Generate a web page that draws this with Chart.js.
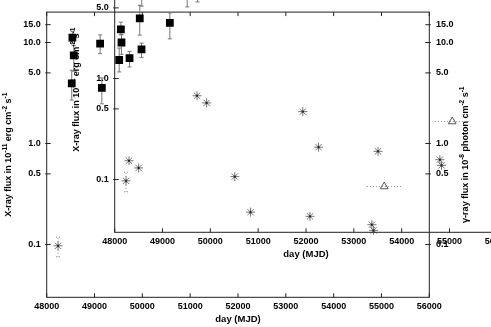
<!DOCTYPE html>
<html>
<head>
<meta charset="utf-8">
<script src="https://cdn.jsdelivr.net/npm/chart.js@4.4.1/dist/chart.umd.min.js"></script>
<style>
html, body { margin: 0; padding: 0; background: #fff; overflow: hidden; }
#wrap { position: relative; width: 491px; height: 327px; overflow: hidden; }
canvas { position: absolute; }
#main { left: 0; top: 0; }
#ghost { left: 68px; top: -65px; }
</style>
</head>
<body>
<div id="wrap">
  <canvas id="main" width="491" height="327"></canvas>
  <canvas id="ghost" width="491" height="327"></canvas>
</div>
<script>
"use strict";

/* ===== DATA ===== */
const xTicks = [48000, 49000, 50000, 51000, 52000, 53000, 54000, 55000, 56000];
const yTicks = [0.1, 0.5, 1, 5, 10, 15];

// X-ray (filled squares) with error bars
const sqDay  = [48524, 48537, 48566, 49117, 49153, 49516, 49551, 49564, 49732, 49983];
const sqFlux = [3.93, 11.2, 7.46, 9.73, 3.56, 6.71, 13.5, 10.0, 7.02, 8.55];
const sqLo   = [2.69, 9.7, 5.2, 7.76, 2.47, 5.11, 11.9, 7.64, 5.73, 7.13];
const sqHi   = [5.31, 12.9, 9.3, 11.9, 4.46, 8.81, 15.9, 12.0, 8.17, 9.86];

// X-ray (asterisks)
const astDay  = [48237, 49721, 49922, 51933, 52262, 53505, 54799, 54834];
const astFlux = [0.097, 0.675, 0.573, 0.470, 0.209, 0.190, 0.157, 0.138];
const astLo   = [0.0755, null, null, null, null, null, null, null];
const astHi   = [0.118, null, null, null, null, null, null, null];

// gamma-ray (open triangle), horizontal error
const gamDay  = [55057];
const gamFlux = [0.375];
const gamFrom = [54694];
const gamTo   = [55421];

const FONT = "'Liberation Sans', Arial, sans-serif";
const tickFont = { family: FONT, size: 9, weight: 'bold' };

/* ===== PLUGINS ===== */
const errorBars = {
    id: 'errorBars',
    beforeDatasetsDraw(chart) {
        const { ctx, scales: { x, y } } = chart;
        ctx.save();
        ctx.strokeStyle = '#777';
        ctx.lineWidth = 1;
        sqDay.forEach((d, i) => {
            const px = x.getPixelForValue(d);
            const a = y.getPixelForValue(sqLo[i]);
            const b = y.getPixelForValue(sqHi[i]);
            ctx.beginPath();
            ctx.moveTo(px, a); ctx.lineTo(px, b);
            ctx.moveTo(px - 2, a); ctx.lineTo(px + 2, a);
            ctx.moveTo(px - 2, b); ctx.lineTo(px + 2, b);
            ctx.stroke();
        });
        // dotted ones
        ctx.setLineDash([1, 2]);
        ctx.strokeStyle = '#888';
        astDay.forEach((d, i) => {
            if (astLo[i] == null) return;
            const px = x.getPixelForValue(d);
            const a = y.getPixelForValue(astLo[i]);
            const b = y.getPixelForValue(astHi[i]);
            ctx.beginPath();
            ctx.moveTo(px, a); ctx.lineTo(px, b);
            ctx.moveTo(px - 2, a); ctx.lineTo(px + 2, a);
            ctx.moveTo(px - 2, b); ctx.lineTo(px + 2, b);
            ctx.stroke();
        });
        gamDay.forEach((d, i) => {
            const py = y.getPixelForValue(gamFlux[i]);
            ctx.beginPath();
            ctx.moveTo(x.getPixelForValue(gamFrom[i]), py);
            ctx.lineTo(x.getPixelForValue(gamTo[i]), py);
            ctx.stroke();
        });
        ctx.restore();
    },
    afterDatasetsDraw(chart) {
        // dark centre of the asterisks
        const { ctx, scales: { x, y } } = chart;
        ctx.save();
        ctx.fillStyle = '#222';
        astDay.forEach((d, i) => {
            ctx.fillRect(x.getPixelForValue(d) - 1, y.getPixelForValue(astFlux[i]) - 1, 2, 2);
        });
        ctx.restore();
    }
};

const frame = {
    id: 'frame',
    afterDraw(chart) {
        const { ctx, chartArea: a, scales: { x, y } } = chart;
        ctx.save();
        ctx.strokeStyle = '#222';
        ctx.lineWidth = 1;
        ctx.strokeRect(a.left, a.top, a.right - a.left, a.bottom - a.top);
        ctx.beginPath();
        xTicks.forEach(v => {
            const px = x.getPixelForValue(v);
            ctx.moveTo(px, a.bottom); ctx.lineTo(px, a.bottom - 4);
            ctx.moveTo(px, a.top); ctx.lineTo(px, a.top + 4);
        });
        yTicks.forEach(v => {
            const py = y.getPixelForValue(v);
            ctx.moveTo(a.left - 1.5, py); ctx.lineTo(a.left + 4, py);
            ctx.moveTo(a.right + 1.5, py); ctx.lineTo(a.right - 4, py);
        });
        ctx.stroke();

        // y titles with superscripts
        ctx.fillStyle = '#000';
        drawRotated(ctx, 9, (a.top + a.bottom) / 2,
            [['X-ray flux in 10'], ['-11', 1], [' erg cm'], ['-2', 1], [' s'], ['-1', 1]]);
        drawRotated(ctx, 466, (a.top + a.bottom) / 2,
            [['\u03b3-ray flux in 10'], ['-8', 1], [' photon cm'], ['-2', 1], [' s'], ['-1', 1]]);
        ctx.restore();
    }
};

function drawRotated(ctx, cx, cy, parts) {
    const base = 'bold 9px ' + FONT;
    const small = 'bold 6.5px ' + FONT;
    let w = 0;
    parts.forEach(([t, s]) => { ctx.font = s ? small : base; w += ctx.measureText(t).width; });
    ctx.save();
    ctx.translate(cx, cy);
    ctx.rotate(-Math.PI / 2);
    ctx.textAlign = 'left';
    ctx.textBaseline = 'middle';
    let px = -w / 2;
    parts.forEach(([t, s]) => {
        ctx.font = s ? small : base;
        ctx.fillText(t, px, s ? -3.5 : 0);
        px += ctx.measureText(t).width;
    });
    ctx.restore();
}

/* ===== CHART ===== */
function yAxis(pos, width, pad) {
    return {
        type: 'logarithmic',
        position: pos,
        axis: 'y',
        min: 0.03,
        max: 20,
        afterBuildTicks: s => { s.ticks = yTicks.map(v => ({ value: v })); },
        afterFit: s => { s.width = width; },
        grid: { display: false, drawTicks: false },
        border: { display: false },
        ticks: {
            font: tickFont, color: '#000', padding: pad, autoSkip: false,
            callback: v => Number(v).toFixed(1)
        }
    };
}

function criar(id) {
    return new Chart(document.getElementById(id), {
        type: 'scatter',
        data: {
            datasets: [
                {
                    data: sqDay.map((d, i) => ({ x: d, y: sqFlux[i] })),
                    pointStyle: 'rect', pointRadius: 5.5,
                    backgroundColor: '#000', borderColor: '#000', borderWidth: 0
                },
                {
                    data: astDay.map((d, i) => ({ x: d, y: astFlux[i] })),
                    pointStyle: 'star', pointRadius: 4.5,
                    backgroundColor: 'rgba(0,0,0,0)', borderColor: '#777', borderWidth: 1
                },
                {
                    data: gamDay.map((d, i) => ({ x: d, y: gamFlux[i] })),
                    pointStyle: 'triangle', pointRadius: 4.5,
                    backgroundColor: 'rgba(0,0,0,0)', borderColor: '#555', borderWidth: 1
                }
            ]
        },
        options: {
            responsive: false,
            animation: false,
            devicePixelRatio: 1,
            layout: { padding: { top: 10.7, left: 0, right: 0, bottom: 0 } },
            plugins: { legend: { display: false }, tooltip: { enabled: false } },
            scales: {
                x: {
                    type: 'linear',
                    min: 48000,
                    max: 56000,
                    afterBuildTicks: s => { s.ticks = xTicks.map(v => ({ value: v })); },
                    afterFit: s => { s.height = 29.7; },
                    grid: { display: false, drawTicks: false },
                    border: { display: false },
                    ticks: {
                        font: tickFont, color: '#000', padding: 4, maxRotation: 0, autoSkip: false,
                        callback: v => String(v)
                    },
                    title: {
                        display: true, text: 'day (MJD)', color: '#000',
                        font: { family: FONT, size: 9.5, weight: 'bold' },
                        padding: { top: 0, bottom: 1.6 }
                    }
                },
                y: yAxis('left', 46.7, 6),
                y2: yAxis('right', 61.7, 6.7)
            }
        },
        plugins: [errorBars, frame]
    });
}

criar('main');
criar('ghost');
</script>
</body>
</html>
